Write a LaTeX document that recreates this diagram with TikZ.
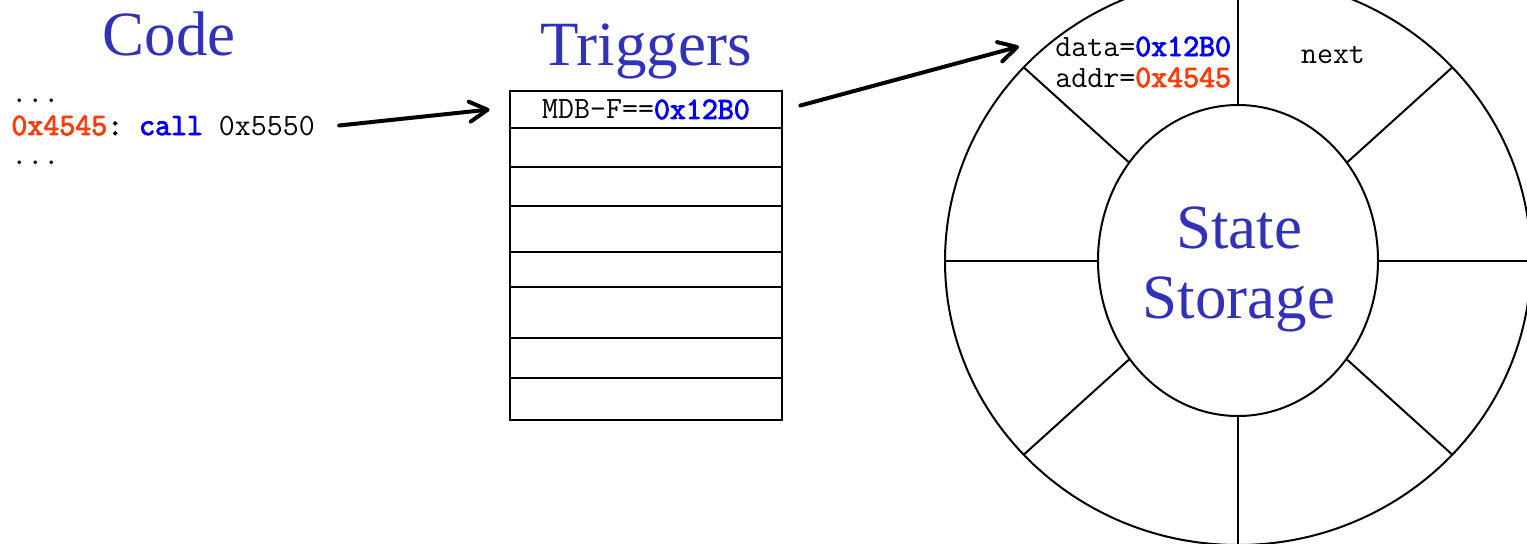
\documentclass[tikz,border=0pt]{standalone}
\usepackage{fontspec}
\setmainfont{Liberation Serif}
\setmonofont[BoldFont={Latin Modern Mono}, BoldFeatures={FakeBold=3}]{Latin Modern Mono}
\usetikzlibrary{arrows.meta, positioning}

\definecolor{titleblue}{RGB}{50,50,185}
\definecolor{addrred}{RGB}{255,62,12}
\definecolor{keyblue}{RGB}{0,0,250}
\newcommand{\hexred}[1]{\textcolor{addrred}{\textbf{#1}}}
\newcommand{\hexblue}[1]{\textcolor{keyblue}{\textbf{#1}}}

\begin{document}
\begin{tikzpicture}[x=0.5pt, y=-0.5pt,
    title/.style={font=\fontsize{31.5}{35}\selectfont, text=titleblue, anchor=base, inner sep=0pt},
    code/.style={font=\ttfamily\fontsize{15.5}{17}\selectfont, inner sep=0pt},
    tbl/.style={line width=1pt},
    ring/.style={line width=1pt},
    arr/.style={line width=2pt, line cap=round,
        -{Straight Barb[length=9pt, width=10pt, line width=2pt, round]}}]
    \useasboundingbox (0,0) rectangle (1527,543);

    % titles
    \node[title] (codetitle) at (169,55) {Code};
    \node[title] (trigtitle) at (646,65) {Triggers};

    % code listing
    \node[code, anchor=base west] (dotsa) at (11,102) {...};
    \node[code, anchor=base west] (call) at (11,135) {\hexred{0x4545}\textbf{:} \hexblue{call} 0x5550};
    \node[code, anchor=base west] (dotsb) at (11,164.5) {...};

    % trigger table
    \draw[tbl] (510,91) rectangle (782,420);
    \node[code, minimum width=136pt, minimum height=18.5pt] (row1) at (646,109.5) {MDB-F==\hexblue{0x12B0}};
    \foreach \y in {128,167,206,252,287,338,378}
        \draw[tbl] (510,\y) -- (782,\y);

    % state storage ring
    \begin{scope}
        \clip (0,0) rectangle (1527,543);
        \coordinate (ctr) at (1238,261);
        \foreach \a in {0,43,90,137,180,223,270,317}
            \draw[ring] (ctr) -- ++(\a:293 and 284);
        \draw[ring] (ctr) ellipse [x radius=293, y radius=284];
        \draw[ring, fill=white] (1238,260.5) ellipse [x radius=140, y radius=155.5];
    \end{scope}
    \node[title] (stateword) at (1239,248) {State};
    \node[title] (storageword) at (1239,318) {Storage};

    % slot contents
    \node[code, anchor=base west] (data) at (1055,56) {data=\hexblue{0x12B0}};
    \node[code, anchor=base west] (addr) at (1055,87) {addr=\hexred{0x4545}};
    \node[code, anchor=base] (next) at (1333,63) {next};

    % arrows
    \draw[arr] ([xshift=12pt]call.east) -- ([xshift=-10pt]row1.west);
    \draw[arr] ([xshift=9pt, yshift=2pt]row1.east) -- ([xshift=-18pt]data.west);
\end{tikzpicture}
\end{document}
